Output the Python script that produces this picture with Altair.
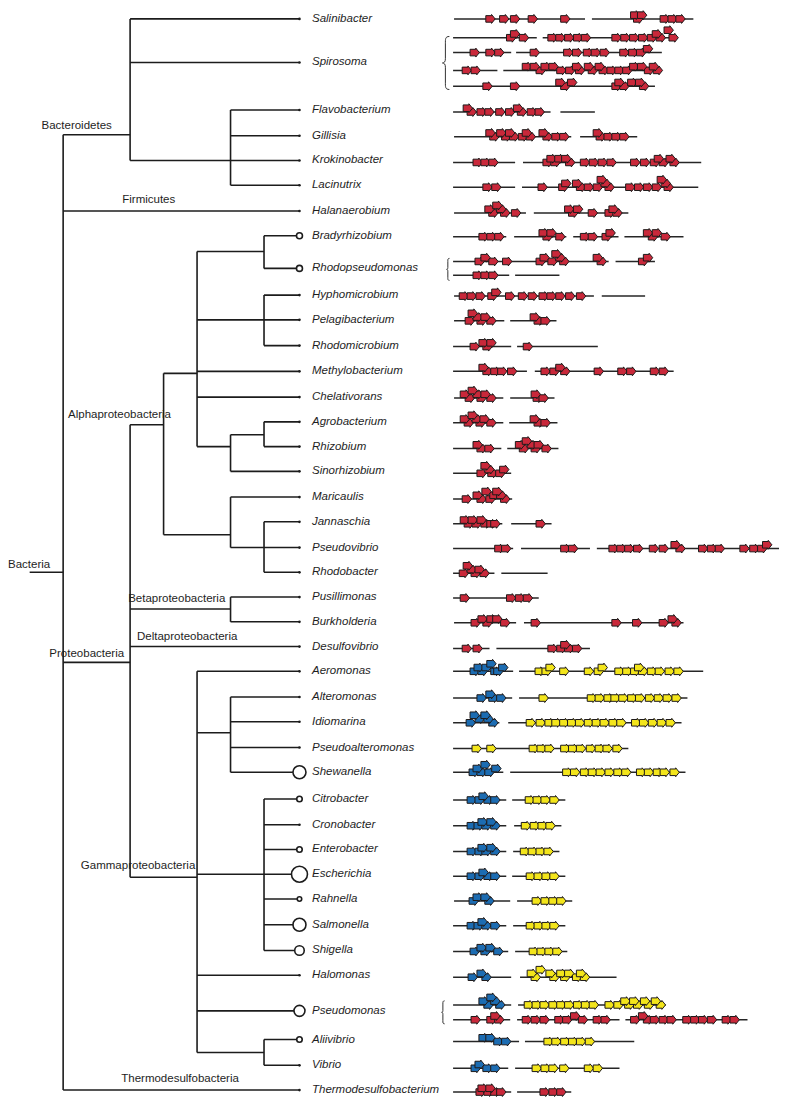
import altair as alt
import pandas as pd

# ---------------- tree (levels and node positions) ----------------
level_x = [24, 58, 126, 160, 194, 228, 262, 298]

node_name = ["Bacteria", "Bacteroidetes", "Salinibacter", "Spirosoma", "Flavo_clade",
             "Flavobacterium", "Gillisia", "Krokinobacter", "Lacinutrix", "Halanaerobium",
             "Proteobacteria", "Alpha", "Alpha_1", "Brady_clade", "Bradyrhizobium",
             "Rhodopseudomonas", "Hypho_clade", "Hyphomicrobium", "Pelagibacterium",
             "Rhodomicrobium", "Methylobacterium", "Chelativorans", "Rhizo_clade",
             "Agro_clade", "Agrobacterium", "Rhizobium", "Sinorhizobium", "Alpha_2",
             "Maricaulis", "Rhodob_clade", "Jannaschia", "Pseudovibrio", "Rhodobacter",
             "Beta", "Pusillimonas", "Burkholderia", "Desulfovibrio", "Gamma", "Aeromonas",
             "Altero_clade", "Alteromonas", "Idiomarina", "Pseudoalteromonas", "Shewanella",
             "Entero_clade", "Citrobacter", "Cronobacter", "Enterobacter", "Escherichia",
             "Rahnella", "Salmonella", "Shigella", "Halomonas", "Pseudomonas", "Vibrio_clade",
             "Aliivibrio", "Vibrio", "Thermodesulfobacterium"]
node_parent = [None, "Bacteria", "Bacteroidetes", "Bacteroidetes", "Bacteroidetes",
               "Flavo_clade", "Flavo_clade", "Flavo_clade", "Flavo_clade", "Bacteria",
               "Bacteria", "Proteobacteria", "Alpha", "Alpha_1", "Brady_clade",
               "Brady_clade", "Alpha_1", "Hypho_clade", "Hypho_clade",
               "Hypho_clade", "Alpha_1", "Alpha_1", "Alpha_1",
               "Rhizo_clade", "Agro_clade", "Agro_clade", "Rhizo_clade", "Alpha",
               "Alpha_2", "Alpha_2", "Rhodob_clade", "Rhodob_clade", "Rhodob_clade",
               "Proteobacteria", "Beta", "Beta", "Proteobacteria", "Proteobacteria", "Gamma",
               "Gamma", "Altero_clade", "Altero_clade", "Altero_clade", "Altero_clade",
               "Gamma", "Entero_clade", "Entero_clade", "Entero_clade", "Entero_clade",
               "Entero_clade", "Entero_clade", "Entero_clade", "Gamma", "Gamma", "Gamma",
               "Vibrio_clade", "Vibrio_clade", "Bacteria"]
node_level = [1, 2, 7, 7, 5, 7, 7, 7, 7, 7,
              2, 3, 4, 6, 7, 7, 6, 7, 7, 7, 7, 7, 5, 6, 7, 7, 7, 5,
              7, 6, 7, 7, 7, 5, 7, 7, 7, 4, 7,
              5, 7, 7, 7, 7, 6, 7, 7, 7, 7, 7, 7, 7, 7, 7, 6, 7, 7, 7]
node_y = [572, 130, 13, 57, 156, 105, 131, 156, 181, 207,
          663, 423, 371, 248, 232, 265, 317, 292, 317, 343, 369, 395, 445, 433, 420, 445, 470, 534,
          496, 547, 521, 547, 572, 609, 597, 622, 647, 880, 672,
          734, 698, 723, 749, 774, 877, 801, 827, 852, 877, 902, 928, 954, 979, 1015, 1057,
          1044, 1070, 1095]

circle_taxa = ["Bradyrhizobium", "Rhodopseudomonas", "Shewanella", "Citrobacter", "Enterobacter",
               "Escherichia", "Rahnella", "Salmonella", "Shigella", "Pseudomonas", "Aliivibrio"]
circle_diam = [6, 6, 13, 5.5, 5.5, 16, 4.5, 13, 9.5, 11, 5.5]

group_label = ["Bacteria", "Bacteroidetes", "Firmicutes", "Alphaproteobacteria",
               "Betaproteobacteria", "Deltaproteobacteria", "Proteobacteria",
               "Gammaproteobacteria", "Thermodesulfobacteria"]
group_x = [2, 36, 118, 63, 124, 133, 44, 76, 117]
group_y = [565, 121, 196, 413, 599, 637, 655, 869, 1084]

# ---------------- gene clusters ----------------
gene_taxon = ["Salinibacter", "Spirosoma", "Spirosoma", "Spirosoma", "Spirosoma",
              "Flavobacterium", "Gillisia", "Krokinobacter", "Lacinutrix", "Halanaerobium",
              "Bradyrhizobium", "Rhodopseudomonas", "Rhodopseudomonas", "Hyphomicrobium",
              "Pelagibacterium", "Rhodomicrobium", "Methylobacterium", "Chelativorans",
              "Agrobacterium", "Rhizobium", "Sinorhizobium", "Maricaulis", "Jannaschia",
              "Pseudovibrio", "Rhodobacter", "Pusillimonas", "Burkholderia", "Desulfovibrio",
              "Aeromonas", "Alteromonas", "Idiomarina", "Pseudoalteromonas", "Shewanella",
              "Citrobacter", "Cronobacter", "Enterobacter", "Escherichia", "Rahnella",
              "Salmonella", "Shigella", "Halomonas", "Pseudomonas", "Pseudomonas",
              "Aliivibrio", "Vibrio", "Thermodesulfobacterium"]
gene_y = [13, 32, 47, 65, 81, 107, 132, 158, 183, 209,
          233, 258, 272, 293, 318, 344, 369, 396, 421, 447, 472, 498, 523, 548, 573, 598, 623, 649,
          672, 699, 724, 750, 774, 802, 828, 854, 879, 904, 929, 955, 981, 1009, 1024,
          1046, 1073, 1097]
gene_segments = [
    [(455, 588), (595, 698)],
    [(454, 539), (545, 680)],
    [(454, 513), (518, 666)],
    [(454, 499), (505, 665)],
    [(454, 659)],
    [(454, 553), (563, 598)],
    [(455, 574), (583, 641)],
    [(454, 517), (525, 706)],
    [(454, 517), (524, 703)],
    [(455, 528), (536, 632)],
    [(454, 508), (516, 569), (576, 622), (628, 688)],
    [(454, 612), (619, 659)],
    [(454, 511), (517, 562)],
    [(455, 597), (605, 649)],
    [(455, 506), (512, 559)],
    [(454, 513), (519, 601)],
    [(454, 529), (537, 678)],
    [(455, 505), (512, 557)],
    [(454, 505), (511, 560)],
    [(454, 503), (509, 561)],
    [(454, 513)],
    [(454, 514)],
    [(454, 504), (513, 554)],
    [(454, 515), (523, 593), (600, 785)],
    [(454, 496), (503, 550)],
    [(454, 541)],
    [(455, 518), (526, 688)],
    [(454, 491), (498, 593)],
    [(454, 515), (521, 708)],
    [(454, 514), (521, 692)],
    [(454, 501), (510, 686)],
    [(454, 632)],
    [(454, 505), (512, 690)],
    [(454, 508), (514, 568)],
    [(454, 508), (516, 564)],
    [(454, 508), (515, 562)],
    [(454, 508), (514, 568)],
    [(455, 512), (519, 575)],
    [(454, 508), (515, 568)],
    [(454, 510), (517, 570)],
    [(454, 513), (522, 620)],
    [(454, 513), (520, 670)],
    [(454, 512), (519, 623), (629, 753)],
    [(454, 521), (527, 638)],
    [(454, 510), (517, 623)],
    [(454, 513), (519, 574)],
]
# gene positions; suffix u / U = stacked one / two steps above the line
gene_red = [
    "492 506 517 535 568 639u 646u 642 669 677 685",
    "513 517u 526 555 563 572 581 589 620 629 638 647 656 661u 665 673U 678",
    "476 492 501 537 571 580 591 599 608 628 637 645 652u",
    "468 477 529u 537u 543 548u 556u 564 573 580u 583 592u 596 603u 607 615 623 631 638u 646u 653 658u 662",
    "489 517 563u 568 575u 623u 620 628 636u 644u 648",
    "469u 473 483 491 502 512 520u 524 534 542",
    "492u 496 503u 508 512u 516 525 529u 533 546u 550 559 567 601u 604 612 620 628",
    "479 487 495 550 554u 558 562u 569u 573 588 597 606 615 639 649 659 663u 668 675u 679",
    "489 498 545 566 569u 580u 584 592 601 605U 609u 613 634 643 652 661 666U 670u 673",
    "491u 495 499U 503u 507 518 572u 576 581u 596 613 617u 621",
    "485 493 501 546u 550 554u 563 588 596 610 614u 652u 657 661u 670",
    "481 487u 495 509 543 547u 555 559U 563u 567 601u 605 647 652u",
    "479 487 495",
    "465 473 482 494 498u 512 525 535 546 554 563 573 584",
    "471 474U 479u 483 487u 493 537u 541 548",
    "476 485u 489 493u 530",
    "485u 489 497 504 514 548 557 563u 568 602 626 635 659 668",
    "466u 471 474U 479u 483 487u 493 538u 540 546",
    "466u 470 474U 478u 482 486u 493 537u 541 548",
    "479u 483 491 522u 526 529U 534u 538 541u 549",
    "483 487U 491u 494 502 506u",
    "468 479u 483 488U 492 496u 499U 503u 507",
    "466u 470 474u 478 483u 487 493 497 543",
    "501 508 568 576 617 625 633 642 658 668 680u 685 708 717 725 750 760 768 773u",
    "465 469U 473u 477 481u 486",
    "466 513 522 530",
    "477 484u 489 493u 499u 507 538 620 641 668 677u 681",
    "468 479 555 564 568u 572 580",
    "", "", "", "", "", "", "", "", "", "", "", "", "", "",
    "477 493 497u 501 529 538 547 562 570 578u 586 601 609 639 647u 652 659 668 676 692 700 708 717 732 740",
    "", "",
    "482 484u 490 492u 497 503 547 556 564",
]
gene_blue = [""] * 28 + [
    "476 480u 484 488u 493U 497 500 505u",
    "483 492u 495 503",
    "472 476U 481u 487U 490u 495",
    "",
    "475 479u 483 487U 491 498u",
    "473 481 485u 490 497",
    "473 480 484u 488 493u 497",
    "473 481 484u 488 493u 497",
    "473 481 485u 490 497",
    "475 479u 487u 491",
    "473 480 484u 488 497",
    "476 483u 487 492u 500",
    "474 483u 488",
    "485u 490 493U 497u 502",
    "",
    "485u 492u 500 508",
    "477 481u 489 497",
    "",
]
gene_yellow = [""] * 28 + [
    "542 549 553u 567 592 602 606u 623 631 639 643u 647 656 664 674 683",
    "546 595 603 612 619 627 636 644 654 663 672 681",
    "533 543 552 559 567 575 583 592 600 608 617 625 640 648 657 666 675",
    "478 493 536 544 552 568 576 584 594 603 611 621",
    "570 578 588 596 604 613 622 630 645 653 662 669 679",
    "532 540 548 557",
    "528 537 545 553",
    "527 535 543 551",
    "533 541 549 557",
    "539 548 556 564",
    "533 541 549 557",
    "536 544 552 560",
    "534u 538 543U 553u 557 564u 568 572u 580 584u 588",
    "531 539 547 556 564 572 581 589 597 613 622 629u 633 638u 642 649u 653 660u 665",
    "",
    "551 559 568 576 584 593",
    "539 548 556 567 592 601",
    "",
]

brace_x = [447, 449, 444]
brace_top = [31, 255, 1005]
brace_bottom = [84, 277, 1028]

# ---------------- build tables ----------------
lvl = dict(zip(node_name, node_level))
ypos = dict(zip(node_name, node_y))
h_rows, v_rows = [], []
for n, p, l, y in zip(node_name, node_parent, node_level, node_y):
    if p is None:
        h_rows.append({"x1": level_x[0], "x2": level_x[l], "y": y})
    else:
        h_rows.append({"x1": level_x[lvl[p]], "x2": level_x[l], "y": y})
for n, l, y in zip(node_name, node_level, node_y):
    kids = [ypos[c] for c, p in zip(node_name, node_parent) if p == n]
    if kids:
        v_rows.append({"x": level_x[l], "y1": min(kids + [y]), "y2": max(kids + [y])})
h_df = pd.DataFrame(h_rows)
v_df = pd.DataFrame(v_rows)

leaves = pd.DataFrame([{"name": n, "x": level_x[l], "y": y}
                       for n, l, y in zip(node_name, node_level, node_y) if l == 7])
cmap = dict(zip(circle_taxa, circle_diam))
dots = leaves[~leaves["name"].isin(circle_taxa)]
circ = leaves[leaves["name"].isin(circle_taxa)].copy()
circ["s"] = circ["name"].map(lambda n: cmap[n] ** 2)

groups = pd.DataFrame({"label": group_label, "x": group_x, "y": group_y})

seg_rows = []
for t, y, segs in zip(gene_taxon, gene_y, gene_segments):
    for a, b in segs:
        seg_rows.append({"taxon": t, "x1": a, "x2": b, "y": y})
seg_df = pd.DataFrame(seg_rows)

STEP = 3.8
arr_rows = []
for kind, lists in (("red", gene_red), ("blue", gene_blue), ("yellow", gene_yellow)):
    for t, y, s in zip(gene_taxon, gene_y, lists):
        for tok in s.split():
            lev = 0
            if tok.endswith("U"):
                lev = -2
            elif tok.endswith("u"):
                lev = -1
            x = float(tok.rstrip("uU"))
            arr_rows.append({"taxon": t, "kind": kind, "x": x, "y": y + lev * STEP, "lev": lev})
arr_df = pd.DataFrame(arr_rows)
arr_df = arr_df.sort_values("lev", ascending=False, kind="stable")

br_df = pd.DataFrame({"x": brace_x, "yc": [(a + b) / 2 for a, b in zip(brace_top, brace_bottom)],
                      "s": [(b - a) ** 2 for a, b in zip(brace_top, brace_bottom)]})

# ---------------- scales ----------------
W, H = 772, 1091
xs = alt.Scale(domain=[2, 786], nice=False, zero=False)
ys = alt.Scale(domain=[5, 1101], nice=False, zero=False, reverse=True)
FONT = "Liberation Sans"
INK = "#1c1c1c"

def X(f):
    return alt.X(f"{f}:Q", scale=xs, axis=None)

def Y(f):
    return alt.Y(f"{f}:Q", scale=ys, axis=None)

tree_h = alt.Chart(h_df).mark_rule(color=INK, strokeWidth=1.6).encode(
    x=X("x1"), x2="x2:Q", y=Y("y"))
tree_v = alt.Chart(v_df).mark_rule(color=INK, strokeWidth=1.6).encode(
    x=X("x"), y=Y("y1"), y2="y2:Q")
leaf_dot = alt.Chart(dots).mark_circle(color=INK, size=7, opacity=1).encode(x=X("x"), y=Y("y"))
leaf_circ = alt.Chart(circ).mark_point(shape="circle", filled=True, fill="white",
                                       stroke=INK, strokeWidth=1.6, opacity=1).encode(
    x=X("x"), y=Y("y"), size=alt.Size("s:Q", scale=None, legend=None))
leaf_text = alt.Chart(leaves).mark_text(align="left", baseline="middle", dx=12.5, font=FONT,
                                        fontSize=11.5, fontStyle="italic", color="#1e1e1e").encode(
    x=X("x"), y=Y("y"), text="name:N")
group_text = alt.Chart(groups).mark_text(align="left", baseline="middle", font=FONT,
                                         fontSize=11.5, color="#1e1e1e").encode(
    x=X("x"), y=Y("y"), text="label:N")

gene_line = alt.Chart(seg_df).mark_rule(color="#262626", strokeWidth=1.5).encode(
    x=X("x1"), x2="x2:Q", y=Y("y"))

ARROW = "M-1,-0.7L0.22,-0.7L0.22,-0.95L1,0L0.22,0.95L0.22,0.7L-1,0.7Z"
arrows = alt.Chart(arr_df).mark_point(shape=ARROW, filled=True, size=88, stroke="#1e1a1a",
                                      strokeWidth=1.0, opacity=1).encode(
    x=X("x"), y=Y("y"),
    fill=alt.Fill("kind:N", scale=alt.Scale(domain=["red", "blue", "yellow"],
                                            range=["#c9283a", "#1c6cb2", "#f3e51b"]),
                  legend=None))

BRACE = ("M0.12,-1C-0.04,-1 -0.03,-0.9 -0.03,-0.72L-0.03,-0.16C-0.03,-0.05 -0.07,0 -0.14,0"
         "C-0.07,0 -0.03,0.05 -0.03,0.16L-0.03,0.72C-0.03,0.9 -0.04,1 0.12,1")
braces = alt.Chart(br_df).mark_point(shape=BRACE, filled=False, stroke="#333", strokeWidth=1,
                                      opacity=1).encode(
    x=X("x"), y=Y("yc"), size=alt.Size("s:Q", scale=None, legend=None))

chart = alt.layer(tree_h, tree_v, leaf_dot, leaf_circ, leaf_text, group_text,
                  gene_line, arrows, braces).properties(
    width=W, height=H, padding=0,
    autosize=alt.AutoSizeParams(type="fit", contains="padding"),
).configure_view(stroke=None)

chart.save("out.html", embed_options={"renderer": "svg", "actions": False})
